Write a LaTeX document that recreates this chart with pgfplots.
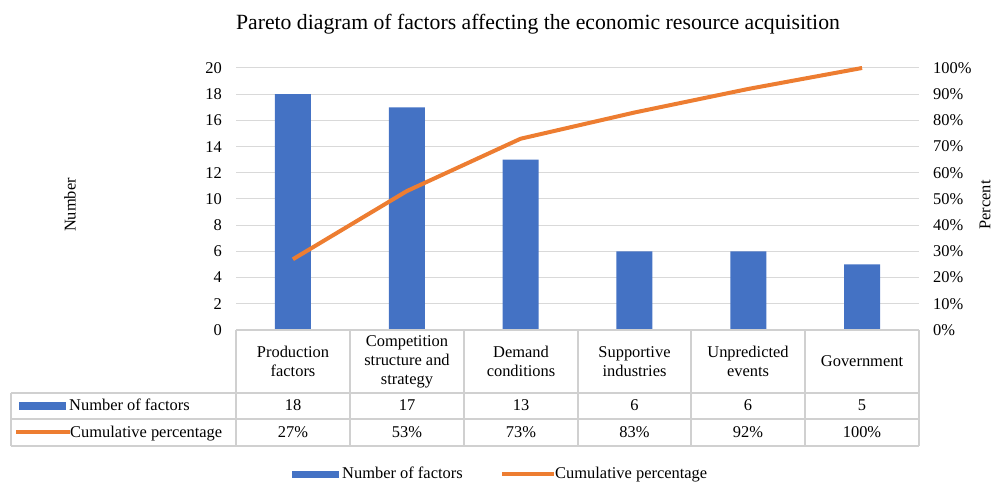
\documentclass[border=0pt]{standalone}
\usepackage{fontspec}
\setmainfont{Liberation Serif}
\usepackage{pgfplots}
\pgfplotsset{compat=1.18}
\definecolor{barblue}{HTML}{4472C4}
\definecolor{lineorange}{HTML}{ED7D31}
\definecolor{gridgray}{HTML}{D9D9D9}
\definecolor{tablegray}{HTML}{D0D0D0}
\newcommand{\tf}{\fontsize{16.5}{19}\selectfont}

\begin{document}
\begin{tikzpicture}[x=1bp,y=1bp,font=\tf]
\useasboundingbox (0,0) rectangle (992,482);

% left axis: number of factors (bars)
\begin{axis}[
  at={(236bp,152bp)}, anchor=south west,
  scale only axis, width=683bp, height=262bp,
  xmin=-0.5, xmax=5.5, ymin=0, ymax=20,
  ytick={0,2,...,20}, xtick=\empty,
  axis line style={draw=none},
  ymajorgrids, grid style={gridgray, line width=1bp},
  major tick length=0pt,
  tick label style={font=\tf},
  yticklabel style={inner sep=0pt, anchor=east, xshift=-14bp},
  /pgf/number format/assume math mode=true,
  clip=false,
]
\addplot[ybar, bar width=36bp, bar shift=0pt, fill=barblue, draw=none]
  coordinates {(0,18) (1,17) (2,13) (3,6) (4,6) (5,5)};
\end{axis}

% right axis: cumulative percentage (line)
\begin{axis}[
  at={(236bp,152bp)}, anchor=south west,
  scale only axis, width=683bp, height=262bp,
  xmin=-0.5, xmax=5.5, ymin=0, ymax=100,
  ytick={0,10,...,100}, xtick=\empty,
  yticklabel pos=right,
  axis line style={draw=none},
  major tick length=0pt,
  tick label style={font=\tf},
  yticklabel={\pgfmathprintnumber{\tick}\%},
  yticklabel style={inner sep=0pt, anchor=west, xshift=14bp},
  /pgf/number format/assume math mode=true,
  clip=false,
]
\addplot[lineorange, line width=4bp, line join=round, mark=none]
  coordinates {(0,27) (1,53) (2,73) (3,83) (4,92) (5,100)};
\end{axis}

% data table
\begin{scope}[tablegray, line width=1.5bp]
  \draw (236,152) -- (919,152);
  \draw (11,89) -- (919,89);
  \draw (11,63) -- (919,63);
  \draw (11,36) -- (919,36);
  \draw (11,36) -- (11,89);
  \foreach \xx in {236,350,464,578,691,805,919} \draw (\xx,36) -- (\xx,152);
\end{scope}

\foreach \xx/\lab/\n/\p in {
  293/{Production\\factors}/18/27,
  407/{Competition\\structure and\\strategy}/17/53,
  521/{Demand\\conditions}/13/73,
  634.5/{Supportive\\industries}/6/83,
  748/{Unpredicted\\events}/6/92,
  862/{Government}/5/100} {
  \node[align=center, inner sep=0pt] at (\xx,120.5) {\lab};
  \node[anchor=base, inner sep=0pt] at (\xx,71.5) {\n};
  \node[anchor=base, inner sep=0pt] at (\xx,44) {\p\%};
}

% legend keys inside the table
\fill[barblue] (19,72) rectangle (66,80);
\node[anchor=base west, inner sep=0pt] at (69,71.5) {Number of factors};
\draw[lineorange, line width=4bp] (16,50) -- (70,50);
\node[anchor=base west, inner sep=0pt] at (70,44) {Cumulative percentage};

% bottom legend
\fill[barblue] (292,4) rectangle (339,11);
\node[anchor=base west, inner sep=0pt] at (342,3.5) {Number of factors};
\draw[lineorange, line width=4bp] (502,7.5) -- (554,7.5);
\node[anchor=base west, inner sep=0pt] at (555,3.5) {Cumulative percentage};

% titles
\node[font=\fontsize{21.8}{26}\selectfont] at (538,458) {Pareto diagram of factors affecting the economic resource acquisition};
\node[rotate=90] at (70,277) {Number};
\node[rotate=90] at (985,277) {Percent};
\end{tikzpicture}
\end{document}
